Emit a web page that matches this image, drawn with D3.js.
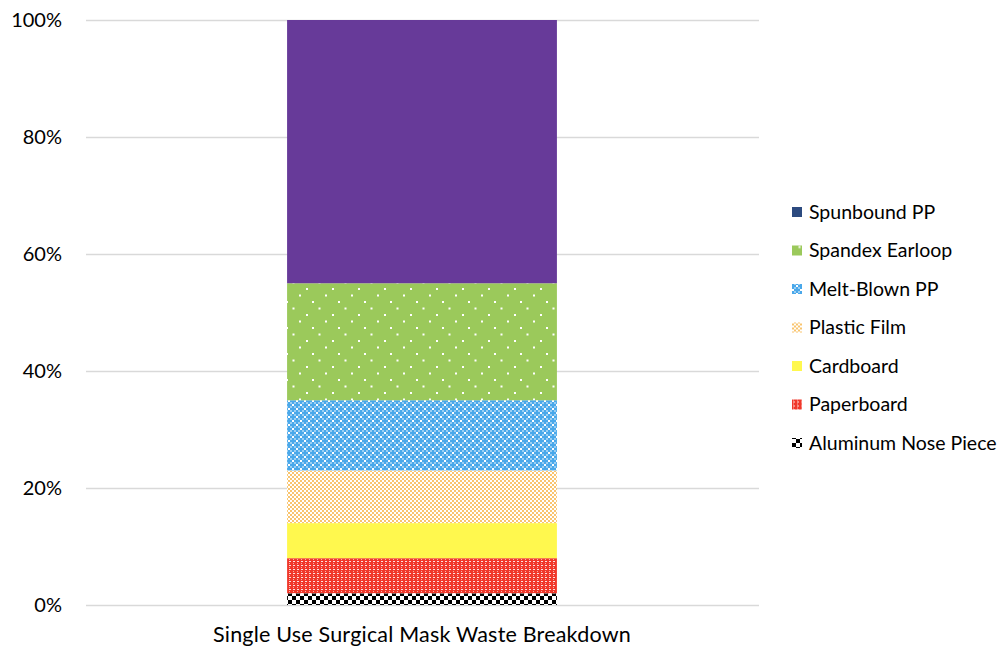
<!DOCTYPE html>
<html>
<head>
<meta charset="utf-8">
<script src="https://cdn.jsdelivr.net/npm/d3@7"></script>
<style>
  html, body { margin: 0; padding: 0; background: #fff; }
  svg { display: block; font-family: Lato, "Open Sans", sans-serif; }
</style>
</head>
<body>
<svg id="chart" width="1005" height="649"></svg>
<script>
// Composition of a single-use surgical mask's waste, share of total (%)
const categories = ["Single Use Surgical Mask Waste Breakdown"];
const materials = ["Aluminum Nose Piece", "Paperboard", "Cardboard", "Plastic Film",
                   "Melt-Blown PP", "Spandex Earloop", "Spunbound PP"];
const shares = [2, 6, 6, 9, 12, 20, 45];
const yTicks = [0, 20, 40, 60, 80, 100];

const svg = d3.select("#chart");
const margin = { left: 86, right: 247, top: 20, bottom: 44 };
const W = 1005, H = 649;

const x = d3.scaleBand().domain(categories)
  .range([margin.left, W - margin.right]).paddingInner(0.427).paddingOuter(0.427);
const y = d3.scaleLinear().domain([0, 100]).range([H - margin.bottom, margin.top]);

// Fill patterns for each material
const defs = svg.append("defs");
function pattern(id, w, h, bg, draw) {
  const p = defs.append("pattern").attr("id", id).attr("patternUnits", "userSpaceOnUse")
    .attr("width", w).attr("height", h);
  p.append("rect").attr("width", w).attr("height", h).attr("fill", bg);
  draw(p);
}
pattern("p-alu", 8, 8, "#ffffff", p => {
  p.append("rect").attr("x", 0).attr("y", 0).attr("width", 4).attr("height", 4).attr("fill", "#000");
  p.append("rect").attr("x", 4).attr("y", 4).attr("width", 4).attr("height", 4).attr("fill", "#000");
});
pattern("p-paper", 4, 4, "#f0382b", p => {
  p.append("rect").attr("x", 1).attr("y", 1).attr("width", 2).attr("height", 1).attr("fill", "#fff").attr("opacity", 0.85);
  p.append("rect").attr("x", 1).attr("y", 3).attr("width", 1).attr("height", 1).attr("fill", "#fff").attr("opacity", 0.6);
});
pattern("p-card", 4, 4, "#fff84e", () => {});
pattern("p-film", 4, 4, "#ffffff", p => {
  p.append("rect").attr("x", 0).attr("y", 0).attr("width", 2).attr("height", 2).attr("fill", "#f9c46e");
  p.append("rect").attr("x", 2).attr("y", 2).attr("width", 2).attr("height", 2).attr("fill", "#f9c46e");
});
pattern("p-melt", 8, 8, "#4aa8ea", p => {
  p.append("rect").attr("x", 0).attr("y", 0).attr("width", 2).attr("height", 2).attr("fill", "#fff");
  p.append("rect").attr("x", 4).attr("y", 4).attr("width", 2).attr("height", 2).attr("fill", "#fff");
  p.append("rect").attr("x", 2).attr("y", 2).attr("width", 2).attr("height", 2).attr("fill", "#fff").attr("opacity", 0.45);
  p.append("rect").attr("x", 6).attr("y", 6).attr("width", 2).attr("height", 2).attr("fill", "#fff").attr("opacity", 0.45);
  p.append("rect").attr("x", 6).attr("y", 2).attr("width", 2).attr("height", 2).attr("fill", "#fff").attr("opacity", 0.45);
  p.append("rect").attr("x", 2).attr("y", 6).attr("width", 2).attr("height", 2).attr("fill", "#fff").attr("opacity", 0.45);
});
pattern("p-spandex", 26, 26, "#9bc95b", p => {
  [[20, 0], [13, 6.5], [0, 13], [6.5, 19.5]].forEach(([dx, dy]) =>
    p.append("rect").attr("x", dx).attr("y", dy + 2).attr("width", 2).attr("height", 2).attr("fill", "#fff"));
});

const barFills = ["url(#p-alu)", "url(#p-paper)", "url(#p-card)", "url(#p-film)",
                  "url(#p-melt)", "url(#p-spandex)", "#673a99"];
const legendFills = ["url(#p-alu)", "url(#p-paper)", "url(#p-card)", "url(#p-film)",
                     "url(#p-melt)", "url(#p-spandex)", "#2c4a7f"];

// Gridlines
svg.append("g").selectAll("line").data(yTicks).join("line")
  .attr("x1", margin.left).attr("x2", W - margin.right + 1)
  .attr("y1", d => Math.round(y(d)) + 0.5).attr("y2", d => Math.round(y(d)) + 0.5)
  .attr("stroke", "#d9d9d9").attr("stroke-width", 1.3);

// Y-axis labels
svg.append("g").selectAll("text").data(yTicks).join("text")
  .attr("x", 62).attr("y", d => y(d)).attr("dy", "0.35em")
  .attr("text-anchor", "end").attr("font-size", 20).attr("fill", "#000")
  .text(d => d + "%");

// Stacked segments
const stacked = [];
let acc = 0;
shares.forEach((v, i) => { stacked.push({ i, y0: acc, y1: acc + v }); acc += v; });
svg.append("g").selectAll("rect").data(stacked).join("rect")
  .attr("x", x(categories[0])).attr("width", x.bandwidth())
  .attr("y", d => y(d.y1)).attr("height", d => y(d.y0) - y(d.y1))
  .attr("fill", d => barFills[d.i]);

// Category label
svg.append("text")
  .attr("x", x(categories[0]) + x.bandwidth() / 2).attr("y", 642)
  .attr("text-anchor", "middle").attr("font-size", 21.5).attr("letter-spacing", 0.2).attr("fill", "#000")
  .text(categories[0]);

// Legend (top entry is the last stacked series)
const legendRows = materials.map((m, i) => ({ m, i })).reverse();
const lg = svg.append("g").selectAll("g").data(legendRows).join("g")
  .attr("transform", (d, k) => `translate(792, ${212 + k * 38.5})`);
lg.append("rect").attr("x", 0).attr("y", -5).attr("width", 10).attr("height", 10)
  .attr("fill", d => legendFills[d.i]);
lg.append("text").attr("x", 17).attr("y", 0).attr("dy", "0.35em")
  .attr("font-size", 19.5).attr("fill", "#000").text(d => d.m);
</script>
</body>
</html>
